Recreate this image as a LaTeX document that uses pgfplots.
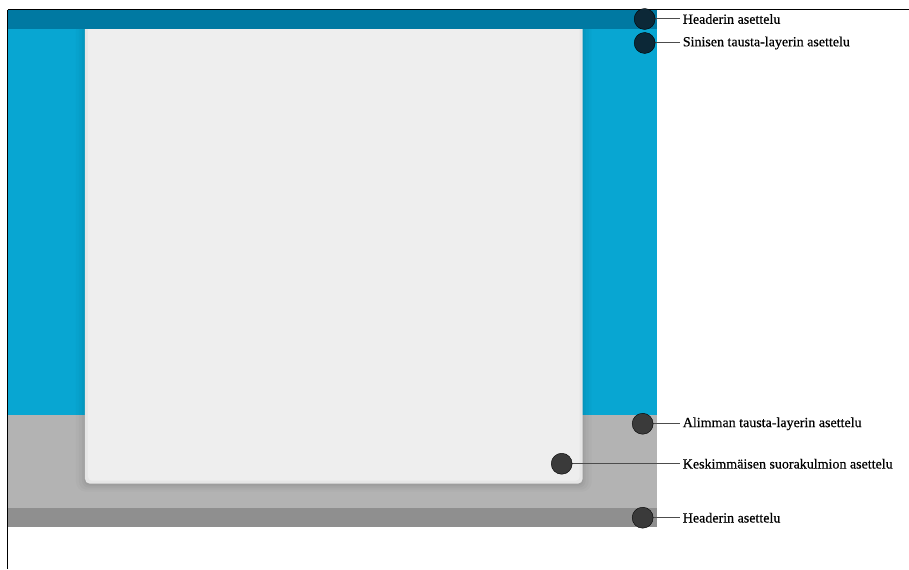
\documentclass[border=0pt]{standalone}
\usepackage{fontspec}
\setmainfont{Liberation Serif}
\newfontfamily\lbl[FakeBold=0.5]{Liberation Serif}
\usepackage{pgfplots}
\pgfplotsset{compat=1.18}
\definecolor{hdrblue}{RGB}{0,121,162}
\definecolor{bgblue}{RGB}{8,166,210}
\definecolor{bggray}{RGB}{179,179,179}
\definecolor{hdrgray}{RGB}{143,143,143}
\definecolor{card}{RGB}{238,238,238}
\definecolor{cardedge}{RGB}{230,230,230}
\definecolor{dotblue}{RGB}{12,40,55}
\definecolor{dotgray}{RGB}{58,58,58}
\begin{document}
\begin{tikzpicture}
\begin{axis}[
  scale only axis, width=909bp, height=569bp,
  xmin=0, xmax=909, ymin=0, ymax=569, y dir=reverse,
  hide axis, clip=false,
]
% page background
\addplot[draw=none, fill=white] coordinates {(0,0) (909,0) (909,569) (0,569)} --cycle;
% blue background layer
\addplot[draw=none, fill=bgblue] coordinates {(8,10) (657,10) (657,415) (8,415)} --cycle;
% grey bottom background layer
\addplot[draw=none, fill=bggray] coordinates {(8,415) (657,415) (657,508) (8,508)} --cycle;
% bottom header
\addplot[draw=none, fill=hdrgray] coordinates {(8,508) (657,508) (657,527) (8,527)} --cycle;
% soft shadow of the card
\addplot[draw=none, fill=black, fill opacity=0.02, rounded corners=10bp] coordinates {(76,20) (592,20) (592,492) (76,492)} --cycle;
\addplot[draw=none, fill=black, fill opacity=0.025, rounded corners=8bp] coordinates {(79,20) (589,20) (589,490) (79,490)} --cycle;
\addplot[draw=none, fill=black, fill opacity=0.03, rounded corners=7bp] coordinates {(82,20) (586,20) (586,488) (82,488)} --cycle;
\addplot[draw=none, fill=black, fill opacity=0.04, rounded corners=6bp] coordinates {(84,20) (584,20) (584,486) (84,486)} --cycle;
% middle card
\addplot[draw=none, fill=cardedge, rounded corners=5bp] coordinates {(85,20) (583,20) (583,484) (85,484)} --cycle;
\addplot[draw=none, fill=card, rounded corners=4bp] coordinates {(88,20) (580,20) (580,481) (88,481)} --cycle;
% top header
\addplot[draw=none, fill=hdrblue] coordinates {(8,10) (657,10) (657,29) (8,29)} --cycle;
% frame lines
\addplot[black, line width=1bp] coordinates {(8,10) (909,10)};
\addplot[black, line width=1bp] coordinates {(8,10) (8,569)};
% connector lines
\addplot[black!70, line width=1bp] coordinates {(645,19) (680,19)};
\addplot[black!70, line width=1bp] coordinates {(645,43) (680,43)};
\addplot[black!70, line width=1bp] coordinates {(643,424) (680,424)};
\addplot[black!70, line width=1bp] coordinates {(562,464) (680,464)};
\addplot[black!70, line width=1bp] coordinates {(643,518) (680,518)};
% markers
\addplot[only marks, mark=*, mark size=10.5bp, mark options={draw=none, fill=dotblue}] coordinates {(645,19) (645,43)};
\addplot[only marks, mark=*, mark size=10.5bp, mark options={draw=none, fill=dotgray}] coordinates {(643,424) (562,464) (643,518)};
% labels
\node[anchor=west, inner sep=0pt, font=\lbl\fontsize{14bp}{16bp}\selectfont] at (axis cs:683,19) {Headerin asettelu};
\node[anchor=west, inner sep=0pt, font=\lbl\fontsize{14bp}{16bp}\selectfont] at (axis cs:683,43) {Sinisen tausta-layerin asettelu};
\node[anchor=west, inner sep=0pt, font=\lbl\fontsize{14bp}{16bp}\selectfont] at (axis cs:683,424) {Alimman tausta-layerin asettelu};
\node[anchor=west, inner sep=0pt, font=\lbl\fontsize{14bp}{16bp}\selectfont] at (axis cs:683,464) {Keskimmäisen suorakulmion asettelu};
\node[anchor=west, inner sep=0pt, font=\lbl\fontsize{14bp}{16bp}\selectfont] at (axis cs:683,518) {Headerin asettelu};
\end{axis}
\end{tikzpicture}
\end{document}
